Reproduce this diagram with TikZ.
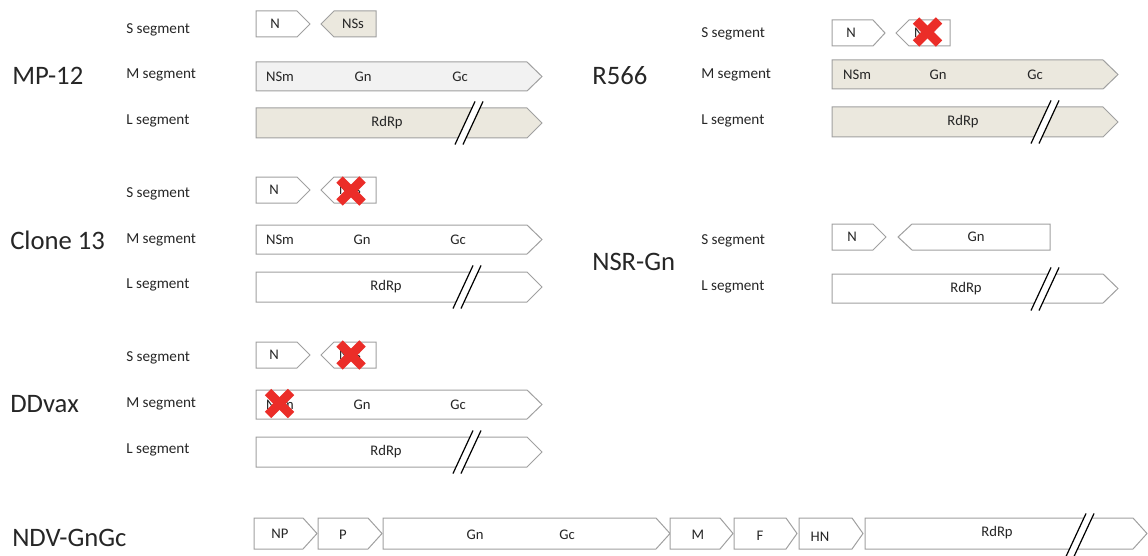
\documentclass[tikz,border=0pt]{standalone}
\usepackage{fontspec}
\setmainfont{Carlito}
\definecolor{ink}{RGB}{38,38,38}
\definecolor{edge}{RGB}{160,160,160}
\definecolor{tan}{RGB}{235,232,222}
\definecolor{pale}{RGB}{242,242,242}
\definecolor{kored}{RGB}{235,45,40}
\tikzset{
  genebox/.style={draw=edge, line width=0.75pt, line join=miter},
  virus/.style={font=\fontsize{20}{24}\selectfont, text=ink, inner sep=0pt},
  seglabel/.style={font=\fontsize{11.4}{13}\selectfont, text=ink, inner sep=0pt},
  genelabel/.style={font=\fontsize{11}{13}\selectfont, text=ink, inner sep=0pt},
  koline/.style={draw=kored, line width=6.8pt, line cap=butt},
}
% forward gene: fill, left x, body end x, tip x, top y, bottom y
\newcommand\generight[6]{%
  \draw[genebox,fill=#1] (#2,#5) -- (#3,#5) -- (#4,{(#5+#6)/2}) -- (#3,#6) -- (#2,#6) -- cycle;}
% reverse gene: fill, tip x, body start x, right x, top y, bottom y
\newcommand\geneleft[6]{%
  \draw[genebox,fill=#1] (#2,{(#5+#6)/2}) -- (#3,#5) -- (#4,#5) -- (#4,#6) -- (#3,#6) -- cycle;}
% double slash marking a shortened gene
\newcommand\breakmark[2]{%
  \fill[white] ({#1+6},{#2-21.5}) -- ({#1+14},{#2-21.5}) -- ({#1-6},{#2+21.5}) -- ({#1-14},{#2+21.5}) -- cycle;
  \draw[black, line width=0.9pt] ({#1+6},{#2-21.5}) -- ({#1-14},{#2+21.5});
  \draw[black, line width=0.9pt] ({#1+14},{#2-21.5}) -- ({#1-6},{#2+21.5});}
% red cross marking a deleted gene
\newcommand\knockout[2]{%
  \draw[koline] ({#1-11.5},{#2-11.5}) -- ({#1+11.5},{#2+11.5});
  \draw[koline] ({#1-11.5},{#2+11.5}) -- ({#1+11.5},{#2-11.5});}
\begin{document}
\begin{tikzpicture}[x=0.75pt,y=-0.75pt]
\useasboundingbox (0,0) rectangle (1148,556);

% ---------------- MP-12 ----------------
\node[virus, anchor=west] (mp) at (12,76) {MP-12};
\node[seglabel, anchor=west] (mpS) at (126,30) {S segment};
\node[seglabel, anchor=west] (mpM) at (126,75) {M segment};
\node[seglabel, anchor=west] (mpL) at (126,121) {L segment};
\generight{white}{256}{297}{310}{11}{37}
\geneleft{tan}{321}{334}{376}{11}{37}
\node[genelabel] (mpN) at (275,24) {N};
\node[genelabel] (mpNSs) at (353,24) {NSs};
\generight{pale}{256}{527}{542}{62}{91}
\node[genelabel] (mpNSm) at (280,76.5) {NSm};
\node[genelabel] (mpGn) at (363,76.5) {Gn};
\node[genelabel] (mpGc) at (460,76.5) {Gc};
\generight{tan}{256}{527}{542}{108}{138}
\node[genelabel] (mpRdRp) at (387,123) {RdRp};
\breakmark{469}{123}

% ---------------- R566 ----------------
\node[virus, anchor=west] (r566) at (592,76) {R566};
\node[seglabel, anchor=west] (rS) at (701,34) {S segment};
\node[seglabel, anchor=west] (rM) at (701,75) {M segment};
\node[seglabel, anchor=west] (rL) at (701,121) {L segment};
\generight{white}{832}{873}{885}{20}{46}
\geneleft{white}{896}{909}{950}{20}{46}
\node[genelabel] (rN) at (851,33) {N};
\node[genelabel] (rNSs) at (925,33) {NSs};
\knockout{927.5}{32}
\generight{tan}{832}{1103}{1118}{60}{89}
\node[genelabel] (rNSm) at (857,74.5) {NSm};
\node[genelabel] (rGn) at (938,74.5) {Gn};
\node[genelabel] (rGc) at (1035,74.5) {Gc};
\generight{tan}{832}{1103}{1118}{107}{137}
\node[genelabel] (rRdRp) at (963,122) {RdRp};
\breakmark{1045}{122}

% ---------------- Clone 13 ----------------
\node[virus, anchor=west] (cl) at (10,240) {Clone 13};
\node[seglabel, anchor=west] (clS) at (126,194) {S segment};
\node[seglabel, anchor=west] (clM) at (126,240) {M segment};
\node[seglabel, anchor=west] (clL) at (126,285) {L segment};
\generight{white}{256}{297}{310}{177}{203}
\geneleft{white}{321}{334}{376}{177}{203}
\node[genelabel] (clN) at (274,190) {N};
\node[genelabel] (clNSs) at (350,190) {NSs};
\knockout{351}{191}
\generight{white}{256}{527}{542}{225}{254}
\node[genelabel] (clNSm) at (280,239.5) {NSm};
\node[genelabel] (clGn) at (362,239.5) {Gn};
\node[genelabel] (clGc) at (458,239.5) {Gc};
\generight{white}{256}{527}{542}{272}{302}
\node[genelabel] (clRdRp) at (386,287) {RdRp};
\breakmark{467}{287}

% ---------------- NSR-Gn ----------------
\node[virus, anchor=west] (nsr) at (592,262) {NSR-Gn};
\node[seglabel, anchor=west] (nsrS) at (701,241) {S segment};
\node[seglabel, anchor=west] (nsrL) at (701,287) {L segment};
\generight{white}{832}{873}{886}{224}{250}
\geneleft{white}{898}{912}{1050}{224}{250}
\node[genelabel] (nsrN) at (852,237) {N};
\node[genelabel] (nsrGn) at (976,237) {Gn};
\generight{white}{832}{1103}{1118}{274}{303}
\node[genelabel] (nsrRdRp) at (966,288.5) {RdRp};
\breakmark{1045}{289}

% ---------------- DDvax ----------------
\node[virus, anchor=west] (dd) at (10,404) {DDvax};
\node[seglabel, anchor=west] (ddS) at (126,358) {S segment};
\node[seglabel, anchor=west] (ddM) at (126,404) {M segment};
\node[seglabel, anchor=west] (ddL) at (126,450) {L segment};
\generight{white}{256}{297}{310}{342}{368}
\geneleft{white}{321}{334}{376}{342}{368}
\node[genelabel] (ddN) at (274,355) {N};
\node[genelabel] (ddNSs) at (350,355) {NSs};
\knockout{351}{355}
\generight{white}{256}{527}{542}{390}{419}
\node[genelabel] (ddNSm) at (280,404.5) {NSm};
\node[genelabel] (ddGn) at (362,404.5) {Gn};
\node[genelabel] (ddGc) at (458,404.5) {Gc};
\knockout{279.5}{403.5}
\generight{white}{256}{527}{542}{437}{467}
\node[genelabel] (ddRdRp) at (386,452) {RdRp};
\breakmark{467}{452}

% ---------------- NDV-GnGc ----------------
\node[virus, anchor=west] (ndv) at (12,538) {NDV-GnGc};
\generight{white}{254}{303}{317}{518}{549}
\node[genelabel] (ndvNP) at (280,533.5) {NP};
\generight{white}{318}{368}{382}{518}{549}
\node[genelabel] (ndvP) at (343,535) {P};
\generight{white}{383}{656}{670}{518}{549}
\node[genelabel] (ndvGn) at (475,535) {Gn};
\node[genelabel] (ndvGc) at (567,535) {Gc};
\generight{white}{670}{720}{733}{518}{549}
\node[genelabel] (ndvM) at (698,535) {M};
\generight{white}{734}{786}{797}{518}{549}
\node[genelabel] (ndvF) at (760,536) {F};
\generight{white}{799}{852}{863}{518}{549}
\node[genelabel] (ndvHN) at (820,537) {HN};
\generight{white}{865}{1133}{1147}{518}{549}
\node[genelabel] (ndvRdRp) at (997,533) {RdRp};
\breakmark{1080}{535}
\end{tikzpicture}
\end{document}
